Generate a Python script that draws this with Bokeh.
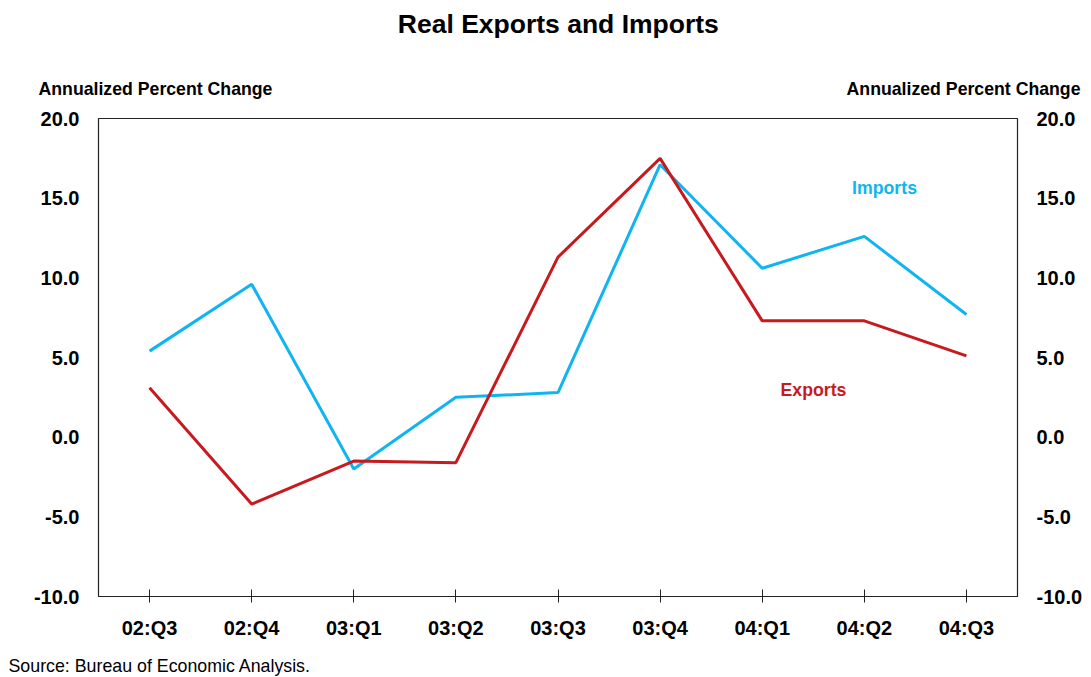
from bokeh.plotting import figure
from bokeh.models import FactorRange, Range1d, LinearAxis, Label, FixedTicker, NumeralTickFormatter
from bokeh.embed import file_html
from bokeh.resources import INLINE

quarters = ["02:Q3", "02:Q4", "03:Q1", "03:Q2", "03:Q3", "03:Q4", "04:Q1", "04:Q2", "04:Q3"]
imports = [5.4, 9.6, -2.0, 2.5, 2.8, 17.1, 10.6, 12.6, 7.7]
exports = [3.1, -4.2, -1.5, -1.6, 11.3, 17.5, 7.3, 7.3, 5.1]
y_ticks = [-10, -5, 0, 5, 10, 15, 20]

IMP_C = "#10B4F2"
EXP_C = "#C81A1E"
FONT = "Liberation Sans"

p = figure(width=1091, height=677, x_range=FactorRange(*quarters), y_range=Range1d(-10, 20),
           output_backend="svg", toolbar_location=None,
           min_border_left=98, min_border_right=74, min_border_top=118, min_border_bottom=81)
p.title.visible = False
p.grid.visible = False
p.outline_line_color = "#222222"
p.outline_line_width = 1.2
p.background_fill_color = "white"
p.border_fill_color = "white"

p.line(quarters, imports, line_color=IMP_C, line_width=3)
p.line(quarters, exports, line_color=EXP_C, line_width=3)

xa = p.xaxis[0]
xa.axis_line_color = "#222222"
xa.major_tick_in = 7
xa.major_tick_out = 6
xa.major_tick_line_color = "#222222"
xa.minor_tick_line_color = None
xa.major_label_standoff = 14
xa.major_label_text_font = FONT
xa.major_label_text_font_style = "bold"
xa.major_label_text_font_size = "20px"
xa.major_label_text_color = "black"

ya = p.yaxis[0]
ya.ticker = FixedTicker(ticks=y_ticks)
ya.formatter = NumeralTickFormatter(format="0.0")
ya2 = LinearAxis(ticker=FixedTicker(ticks=y_ticks), formatter=NumeralTickFormatter(format="0.0"))
p.add_layout(ya2, "right")
for a in (ya, ya2):
    a.axis_line_color = None
    a.major_tick_line_color = None
    a.minor_tick_line_color = None
    a.major_tick_in = 0
    a.major_tick_out = 0
    a.major_label_standoff = 19
    a.major_label_text_font = FONT
    a.major_label_text_font_style = "bold"
    a.major_label_text_font_size = "20px"
    a.major_label_text_color = "black"


def lab(x, y, text, align, size, color="black", style="bold", place="center"):
    lb = Label(x=x, y=y, text=text, text_align=align, text_baseline="middle",
               text_font=FONT, text_font_style=style, text_font_size=size,
               text_color=color)
    if place == "center":
        p.add_layout(lb)
    else:
        p.add_layout(lb, place)


lab(4.503, 25.95, "Real Exports and Imports", "center", "26.5px", place="above")
lab(-0.5876, 21.88, "Annualized Percent Change", "left", "17.7px", place="above")
lab(9.617, 21.88, "Annualized Percent Change", "right", "17.7px", place="above")
lab(-0.8814, -14.39, "Source: Bureau of Economic Analysis.", "left", "17.8px", style="normal",
    place="below")
lab(7.698, 15.61, "Imports", "center", "17.7px", color=IMP_C)
lab(7.002, 2.99, "Exports", "center", "17.7px", color=EXP_C)

open("out.html", "w").write(file_html(p, INLINE))
